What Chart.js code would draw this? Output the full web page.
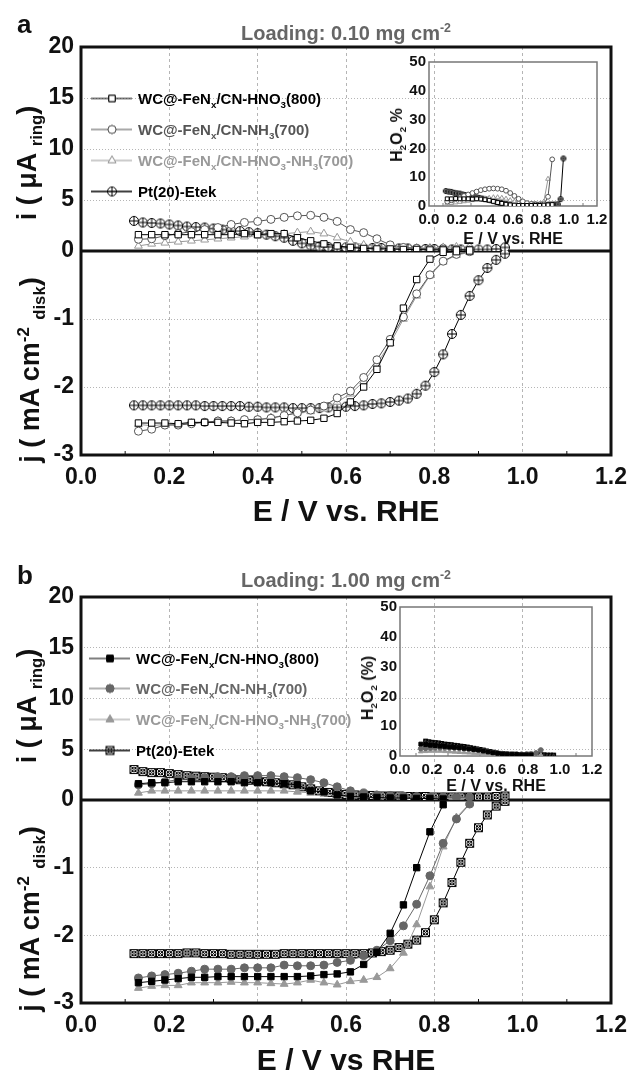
<!DOCTYPE html>
<html lang="en">
<head>
    <meta charset="UTF-8">
    <title>RRDE ring and disk currents</title>
    <script src="https://cdn.jsdelivr.net/npm/chart.js"></script>
    <style>
        body {
            margin: 0;
            width: 636px;
            height: 1075px;
            position: relative;
            overflow: hidden;
            background: #fff;
            font-family: "Liberation Sans", Arial, sans-serif;
            color: #111;
        }
        canvas { position: absolute; }
        .txt {
            position: absolute;
            font-weight: bold;
            white-space: nowrap;
            line-height: 1;
        }
        .rot {
            transform: translate(-50%, -50%) rotate(-90deg);
        }
        .ctr {
            transform: translate(-50%, -50%);
        }
        .txt sub, .txt sup { font-size: 62%; line-height: 0; }
        .legend {
            position: absolute;
            font-weight: bold;
            font-size: 15px;
        }
        .legend div {
            position: absolute;
            left: 0;
            white-space: nowrap;
            display: flex;
            align-items: center;
            transform: translateY(-50%);
        }
        .legend sub { font-size: 65%; line-height: 0; }
    </style>
</head>
<body>
    <canvas id="mainA" width="636" height="540" style="left:0;top:0"></canvas>
    <canvas id="insetA" width="236" height="205" style="left:380px;top:50px"></canvas>
    <canvas id="mainB" width="636" height="535" style="left:0;top:540px"></canvas>
    <canvas id="insetB" width="262" height="210" style="left:350px;top:595px"></canvas>

    <div class="txt" style="left:17px;top:11px;font-size:26px">a</div>
    <div class="txt ctr" style="left:346px;top:33px;font-size:20px;color:#666">Loading: 0.10 mg cm<sup>-2</sup></div>
    <div class="txt rot" style="left:27px;top:163px;font-size:27px">i ( &mu;A <sub>ring</sub>)</div>
    <div class="txt rot" style="left:30px;top:370px;font-size:27px">j ( mA cm<sup>-2</sup> <sub>disk</sub>)</div>
    <div class="txt rot" style="left:397px;top:135px;font-size:16px">H<sub>2</sub>O<sub>2</sub> %</div>
    <div class="legend" id="legendA" style="left:91px;top:0"></div>

    <div class="txt" style="left:17px;top:562px;font-size:26px">b</div>
    <div class="txt ctr" style="left:346px;top:580px;font-size:20px;color:#666">Loading: 1.00 mg cm<sup>-2</sup></div>
    <div class="txt rot" style="left:27px;top:706px;font-size:27px">i ( &mu;A <sub>ring</sub>)</div>
    <div class="txt rot" style="left:30px;top:919px;font-size:27px">j ( mA cm<sup>-2</sup> <sub>disk</sub>)</div>
    <div class="txt rot" style="left:368px;top:688px;font-size:16px">H<sub>2</sub>O<sub>2</sub> (%)</div>
    <div class="legend" id="legendB" style="left:89px;top:0"></div>

    <script>
        // potentials (V vs RHE)
        const xWC = [0.13, 0.16, 0.19, 0.22, 0.25, 0.28, 0.31, 0.34, 0.37, 0.40, 0.43, 0.46, 0.49,
                     0.52, 0.55, 0.58, 0.61, 0.64, 0.67, 0.70, 0.73, 0.76, 0.79, 0.82, 0.85, 0.88];
        const xPt = [0.12, 0.14, 0.16, 0.18, 0.20, 0.22, 0.24, 0.26, 0.28, 0.30, 0.32, 0.34, 0.36, 0.38,
                     0.40, 0.42, 0.44, 0.46, 0.48, 0.50, 0.52, 0.54, 0.56, 0.58, 0.60, 0.62, 0.64, 0.66,
                     0.68, 0.70, 0.72, 0.74, 0.76, 0.78, 0.80, 0.82, 0.84, 0.86, 0.88, 0.90, 0.92, 0.94, 0.96];

        const seriesNames = [
            'WC@-FeN<sub>x</sub>/CN-HNO<sub>3</sub>(800)',
            'WC@-FeN<sub>x</sub>/CN-NH<sub>3</sub>(700)',
            'WC@-FeN<sub>x</sub>/CN-HNO<sub>3</sub>-NH<sub>3</sub>(700)',
            'Pt(20)-Etek'
        ];

        // ---- panel a : loading 0.10 mg cm-2 ----
        const aDiskHNO3 = [-2.53, -2.53, -2.53, -2.54, -2.52, -2.52, -2.52, -2.53, -2.54, -2.52, -2.52, -2.51, -2.50,
                           -2.49, -2.46, -2.39, -2.22, -2.00, -1.74, -1.35, -0.84, -0.42, -0.12, -0.02, -0.01, 0.00];
        const aDiskNH3 = [-2.65, -2.62, -2.56, -2.56, -2.54, -2.52, -2.50, -2.50, -2.48, -2.48, -2.46, -2.42, -2.38,
                          -2.34, -2.28, -2.16, -2.06, -1.86, -1.60, -1.30, -0.97, -0.63, -0.35, -0.15, -0.05, -0.01];
        const aDiskMix = [-2.55, -2.57, -2.55, -2.55, -2.53, -2.52, -2.50, -2.50, -2.48, -2.48, -2.45, -2.42, -2.38,
                          -2.36, -2.32, -2.22, -2.10, -1.92, -1.66, -1.36, -1.00, -0.66, -0.36, -0.16, -0.06, -0.02];
        const aDiskPt = [-2.27, -2.27, -2.27, -2.27, -2.27, -2.27, -2.27, -2.27, -2.28, -2.28, -2.28, -2.28, -2.28, -2.29,
                         -2.29, -2.30, -2.30, -2.30, -2.31, -2.31, -2.31, -2.31, -2.30, -2.30, -2.29, -2.28, -2.27, -2.25,
                         -2.24, -2.22, -2.20, -2.17, -2.10, -1.98, -1.78, -1.52, -1.22, -0.94, -0.66, -0.43, -0.25, -0.13, -0.04];

        const aRingHNO3 = [1.6, 1.6, 1.6, 1.6, 1.6, 1.6, 1.6, 1.6, 1.7, 1.6, 1.7, 1.7, 1.3,
                           1.0, 0.7, 0.5, 0.35, 0.25, 0.2, 0.2, 0.15, 0.15, 0.1, 0.1, 0.1, 0.1];
        const aRingNH3 = [1.15, 1.2, 1.5, 1.7, 1.9, 2.1, 2.3, 2.6, 2.8, 2.9, 3.1, 3.3, 3.45,
                          3.5, 3.3, 2.9, 2.1, 1.8, 1.2, 0.6, 0.35, 0.25, 0.2, 0.15, 0.15, 0.1];
        const aRingMix = [0.5, 0.7, 0.8, 0.9, 1.0, 1.1, 1.2, 1.3, 1.4, 1.5, 1.6, 1.7, 1.8,
                          1.9, 1.7, 1.3, 0.9, 0.6, 0.45, 0.35, 0.3, 0.3, 0.3, 0.35, 0.4, 0.45];
        const aRingPt = [2.95, 2.8, 2.75, 2.7, 2.6, 2.5, 2.4, 2.35, 2.3, 2.2, 2.1, 2.0, 1.95, 1.85,
                         1.75, 1.6, 1.45, 1.3, 1.0, 0.75, 0.55, 0.45, 0.4, 0.35, 0.35, 0.35, 0.3, 0.3,
                         0.3, 0.3, 0.25, 0.25, 0.2, 0.2, 0.2, 0.2, 0.15, 0.15, 0.15, 0.15, 0.15, 0.2, 0.35];

        const aPerHNO3 = [2.5, 2.5, 2.6, 2.5, 2.5, 2.5, 2.4, 2.5, 2.4, 2.2, 2.0, 1.6, 1.2,
                          0.9, 0.6, 0.4, 0.3, 0.2, 0.2, 0.2, 0.2, 0.2, 0.2, 0.3, 0.4, 0.5];
        const aPerNH3 = [1.5, 2.0, 2.5, 3.0, 3.5, 4.0, 4.5, 5.0, 5.5, 5.8, 6.0, 6.1, 6.0,
                         5.8, 5.3, 4.5, 3.5, 2.5, 1.6, 1.0, 0.7, 0.5, 0.5, 0.6, 3.2, 16.2];
        const aPerMix = [0.8, 1.0, 1.2, 1.4, 1.6, 1.8, 2.0, 2.2, 2.4, 2.6, 2.8, 3.0, 3.0,
                         2.8, 2.5, 2.0, 1.5, 1.0, 0.7, 0.5, 0.4, 0.4, 0.5, 1.5, 9.4, null];
        const aPerPt = [5.2, 5.0, 4.9, 4.6, 4.4, 4.3, 4.0, 3.8, 3.7, 3.4, 3.2, 3.0, 2.8, 2.6,
                        2.4, 2.2, 2.0, 1.7, 1.4, 1.2, 1.0, 0.8, 0.7, 0.6, 0.5, 0.5, 0.5, 0.4,
                        0.5, 0.5, 0.4, 0.5, 0.5, 0.4, 0.5, 0.5, 0.4, 0.5, 0.5, 0.5, 0.6, 2.4, 16.5];

        // ---- panel b : loading 1.00 mg cm-2 ----
        const bDiskHNO3 = [-2.70, -2.68, -2.66, -2.64, -2.62, -2.62, -2.61, -2.61, -2.61, -2.61, -2.61, -2.61, -2.61,
                           -2.60, -2.58, -2.57, -2.54, -2.43, -2.25, -1.97, -1.55, -1.00, -0.47, -0.07];
        const bDiskNH3 = [-2.63, -2.60, -2.58, -2.56, -2.53, -2.50, -2.50, -2.50, -2.48, -2.48, -2.48, -2.44, -2.45,
                          -2.45, -2.44, -2.40, -2.37, -2.30, -2.22, -2.08, -1.86, -1.54, -1.12, -0.64, -0.28, -0.06];
        const bDiskMix = [-2.78, -2.75, -2.74, -2.74, -2.70, -2.70, -2.70, -2.69, -2.70, -2.70, -2.71, -2.72, -2.70,
                          -2.66, -2.70, -2.73, -2.68, -2.66, -2.62, -2.49, -2.26, -1.84, -1.28, -0.69, -0.26, -0.05];
        const bDiskPt = [-2.27, -2.27, -2.27, -2.27, -2.27, -2.27, -2.26, -2.26, -2.27, -2.27, -2.27, -2.28, -2.28, -2.28,
                         -2.28, -2.28, -2.28, -2.27, -2.27, -2.27, -2.27, -2.27, -2.27, -2.27, -2.27, -2.27, -2.27, -2.26,
                         -2.24, -2.22, -2.18, -2.13, -2.07, -1.96, -1.77, -1.52, -1.22, -0.92, -0.64, -0.41, -0.22, -0.09, -0.02];

        const bRingHNO3 = [1.6, 1.7, 1.7, 1.8, 1.8, 1.8, 1.8, 1.8, 1.7, 1.7, 1.7, 1.6, 1.5,
                           0.9, 0.8, 0.5, 0.35, 0.3, 0.25, 0.2, 0.2, 0.15, 0.15, 0.1];
        const bRingNH3 = [1.5, 1.6, 1.8, 2.0, 2.1, 2.2, 2.3, 2.3, 2.4, 2.4, 2.4, 2.3, 2.2,
                          2.0, 1.7, 1.3, 0.9, 0.7, 0.5, 0.45, 0.4, 0.35, 0.3, 0.3, 0.25, 0.25];
        const bRingMix = [0.7, 0.9, 0.9, 0.9, 0.9, 0.9, 0.9, 0.9, 0.9, 0.9, 0.9, 0.9, 0.8,
                          0.7, 0.6, 0.4, 0.3, 0.25, 0.2, 0.2, 0.2, 0.15, 0.15, 0.15, 0.15, 0.15];
        const bRingPt = [3.0, 2.8, 2.7, 2.7, 2.6, 2.5, 2.4, 2.35, 2.3, 2.25, 2.2, 2.1, 2.0, 1.95,
                         1.9, 1.8, 1.7, 1.6, 1.5, 1.3, 1.1, 0.9, 0.75, 0.65, 0.55, 0.5, 0.45, 0.45,
                         0.4, 0.4, 0.4, 0.35, 0.35, 0.35, 0.3, 0.3, 0.3, 0.3, 0.3, 0.3, 0.3, 0.35, 0.4];

        const bPerHNO3 = [4.0, 3.8, 3.6, 3.5, 3.3, 3.2, 3.0, 2.9, 2.8, 2.6, 2.4, 2.2, 2.0,
                          1.7, 1.4, 1.1, 0.9, 0.7, 0.6, 0.5, 0.5, 0.4, 0.4, 0.4];
        const bPerNH3 = [2.5, 2.6, 2.7, 2.8, 2.8, 2.8, 2.8, 2.7, 2.6, 2.5, 2.4, 2.2, 2.0,
                         1.7, 1.4, 1.1, 0.9, 0.8, 0.7, 0.6, 0.6, 0.6, 0.6, 0.7, 1.0, 2.0];
        const bPerMix = [1.5, 1.6, 1.7, 1.7, 1.7, 1.6, 1.5, 1.4, 1.3, 1.2, 1.1, 1.0, 0.9,
                         0.8, 0.7, 0.6, 0.5, 0.4, 0.4, 0.3, 0.3, 0.3, 0.3, 0.3, 0.3, 0.3];
        const bPerPt = [null, null, 5.0, 4.8, 4.6, 4.5, 4.4, 4.2, 4.0, 3.9, 3.8, 3.6, 3.5, 3.3,
                        3.2, 3.0, 2.8, 2.6, 2.4, 2.2, 2.0, 1.7, 1.5, 1.3, 1.1, 0.9, 0.8, 0.7,
                        0.6, 0.6, 0.6, 0.5, 0.5, 0.5, 0.6, 0.5, 0.5, 0.4, 0.4, 0.4, 0.3, 0.3, 0.3];

        Chart.defaults.font.family = "'Liberation Sans', Arial, sans-serif";
        Chart.defaults.color = '#111';

        function pts(xs, ys) {
            return ys.map((y, i) => ({ x: xs[i], y: y }));
        }

        // little canvases used as point styles for the Pt/C markers
        function ptMarker(kind, r) {
            const c = document.createElement('canvas');
            const s = Math.ceil(2 * r + 3);
            c.width = s; c.height = s;
            const g = c.getContext('2d');
            const m = s / 2;
            g.strokeStyle = '#000';
            g.fillStyle = '#fff';
            g.lineWidth = 1;
            if (kind === 'circle') {
                g.beginPath(); g.arc(m, m, r, 0, 2 * Math.PI); g.fill(); g.stroke();
                g.beginPath();
                g.moveTo(m - r, m); g.lineTo(m + r, m);
                g.moveTo(m, m - r); g.lineTo(m, m + r);
                g.stroke();
            } else {
                g.beginPath(); g.rect(m - r, m - r, 2 * r, 2 * r); g.fill(); g.stroke();
                g.beginPath();
                g.moveTo(m - r, m - r); g.lineTo(m + r, m + r);
                g.moveTo(m + r, m - r); g.lineTo(m - r, m + r);
                g.stroke();
                g.beginPath(); g.arc(m, m, r * 0.6, 0, 2 * Math.PI); g.stroke();
            }
            return c;
        }

        const stylesA = [
            { color: '#000', point: 'rect', fill: '#fff', r: 4.5 },
            { color: '#555', point: 'circle', fill: '#fff', r: 4 },
            { color: '#999', point: 'triangle', fill: '#fff', r: 4.5 },
            { color: '#000', point: ptMarker('circle', 4.5), fill: '#fff', r: 4.5, small: ptMarker('circle', 2.5) }
        ];
        const stylesB = [
            { color: '#000', point: 'rect', fill: '#000', r: 4.5 },
            { color: '#666', point: 'circle', fill: '#666', r: 4 },
            { color: '#999', point: 'triangle', fill: '#999', r: 4.5 },
            { color: '#000', point: ptMarker('square', 4), fill: '#fff', r: 4.5, small: ptMarker('square', 2) }
        ];

        function dataset(xs, ys, st, axis, small) {
            return {
                data: pts(xs, ys),
                yAxisID: axis,
                borderColor: st.color,
                borderWidth: 1,
                pointStyle: small && st.small ? st.small : st.point,
                pointRadius: small ? st.r * 0.6 : st.r,
                pointBorderColor: st.color,
                pointBackgroundColor: st.fill,
                pointBorderWidth: 1,
                spanGaps: false
            };
        }

        const framePlugin = {
            id: 'frame',
            beforeDatasetsDraw(chart, args, opts) {
                const { ctx, chartArea: a } = chart;
                ctx.save();
                ctx.strokeStyle = opts.color;
                ctx.lineWidth = opts.width;
                ctx.strokeRect(a.left, a.top, a.right - a.left, a.bottom - a.top);
                if (opts.zeroAxis) {
                    const y = chart.scales[opts.zeroAxis].getPixelForValue(0);
                    ctx.beginPath();
                    ctx.moveTo(a.left, y);
                    ctx.lineTo(a.right, y);
                    ctx.stroke();
                }
                // small inward minor ticks on the bottom edge
                ctx.lineWidth = 1;
                const xs = chart.scales.x;
                for (let v = 0.1; v < 1.2; v += 0.2) {
                    const px = xs.getPixelForValue(v);
                    ctx.beginPath();
                    ctx.moveTo(px, a.bottom);
                    ctx.lineTo(px, a.bottom - opts.minor);
                    ctx.stroke();
                }
                ctx.restore();
            }
        };

        function makeMain(id, styles, ring, disk, padTop, xTitle, axisH, titlePad) {
            const datasets = [];
            const xsets = [xWC, xWC, xWC, xPt];
            for (let k = 0; k < 4; k++) {
                datasets.push(dataset(xsets[k], disk[k], styles[k], 'yj'));
                datasets.push(dataset(xsets[k], ring[k], styles[k], 'yi'));
            }
            return new Chart(document.getElementById(id), {
                type: 'line',
                data: { datasets: datasets },
                options: {
                    responsive: false,
                    animation: false,
                    layout: { padding: { top: padTop, right: 25, left: 0, bottom: 0 } },
                    plugins: {
                        legend: { display: false },
                        tooltip: { enabled: false },
                        frame: { color: '#111', width: 3, zeroAxis: 'yj', minor: 4 }
                    },
                    scales: {
                        x: {
                            type: 'linear', min: 0, max: 1.2,
                            border: { display: false, dash: [3, 3] },
                            grid: {
                                color: ctx => (ctx.tick.value > 0.01 && ctx.tick.value < 1.19) ? '#b5b5b5' : 'rgba(0,0,0,0)',
                                drawTicks: false
                            },
                            ticks: {
                                stepSize: 0.2, padding: 9, autoSkip: false,
                                font: { size: 23, weight: 'bold' },
                                callback: v => v.toFixed(1)
                            },
                            title: {
                                display: true, text: xTitle,
                                font: { size: 30, weight: 'bold', lineHeight: 1 },
                                padding: { top: 0, bottom: titlePad }
                            },
                            afterFit: s => { s.height = axisH; }
                        },
                        yj: {
                            type: 'linear', position: 'left', stack: 'main', stackWeight: 1,
                            min: -3, max: 0,
                            border: { display: false, dash: [1, 2] },
                            grid: {
                                color: ctx => (ctx.tick.value < -0.01 && ctx.tick.value > -2.99) ? '#b5b5b5' : 'rgba(0,0,0,0)',
                                drawTicks: false
                            },
                            ticks: {
                                stepSize: 1, padding: 7, autoSkip: false,
                                font: { size: 23, weight: 'bold' },
                                callback: v => (v === 0 ? '' : String(v))
                            },
                            afterFit: s => { s.width = 81; }
                        },
                        yi: {
                            type: 'linear', position: 'left', stack: 'main', stackWeight: 1,
                            min: 0, max: 20,
                            border: { display: false, dash: [1, 2] },
                            grid: {
                                color: ctx => (ctx.tick.value > 0.01 && ctx.tick.value < 19.9) ? '#b5b5b5' : 'rgba(0,0,0,0)',
                                drawTicks: false
                            },
                            ticks: {
                                stepSize: 5, padding: 7, autoSkip: false,
                                font: { size: 23, weight: 'bold' }
                            },
                            afterFit: s => { s.width = 81; }
                        }
                    }
                },
                plugins: [framePlugin]
            });
        }

        function makeInset(id, styles, per, yW, padTop, padRight, axisH, titlePad) {
            const xsets = [xWC, xWC, xWC, xPt];
            const datasets = [];
            for (let k = 0; k < 4; k++) {
                datasets.push(dataset(xsets[k], per[k], styles[k], 'y', true));
            }
            return new Chart(document.getElementById(id), {
                type: 'line',
                data: { datasets: datasets },
                options: {
                    responsive: false,
                    animation: false,
                    layout: { padding: { top: padTop, right: padRight, left: 0, bottom: 0 } },
                    plugins: {
                        legend: { display: false },
                        tooltip: { enabled: false },
                        frame: { color: '#777', width: 1.5, minor: 3 }
                    },
                    scales: {
                        x: {
                            type: 'linear', min: 0, max: 1.2,
                            border: { display: false },
                            grid: { display: false, drawTicks: false },
                            ticks: {
                                stepSize: 0.2, padding: 5, autoSkip: false,
                                font: { size: 15, weight: 'bold' },
                                callback: v => v.toFixed(1)
                            },
                            title: {
                                display: true, text: 'E / V vs. RHE',
                                font: { size: 16, weight: 'bold' },
                                padding: { top: 0, bottom: titlePad }
                            },
                            afterFit: s => { s.height = axisH; }
                        },
                        y: {
                            type: 'linear', min: 0, max: 50,
                            border: { display: false },
                            grid: { display: false, drawTicks: false },
                            ticks: {
                                stepSize: 10, padding: 3, autoSkip: false,
                                font: { size: 15, weight: 'bold' }
                            },
                            afterFit: s => { s.width = yW; }
                        }
                    }
                },
                plugins: [framePlugin]
            });
        }

        function buildLegend(id, styles, rows) {
            const box = document.getElementById(id);
            seriesNames.forEach((name, k) => {
                const st = styles[k];
                const row = document.createElement('div');
                row.style.top = rows[k] + 'px';
                row.style.color = st.color;
                const mk = document.createElement('canvas');
                mk.width = 42; mk.height = 12;
                mk.style.position = 'static';
                mk.style.marginRight = '5px';
                const g = mk.getContext('2d');
                g.strokeStyle = st.color;
                g.lineWidth = 1.2;
                g.beginPath(); g.moveTo(0, 6); g.lineTo(41, 6); g.stroke();
                g.fillStyle = st.fill;
                g.lineWidth = 1;
                Chart.helpers.drawPoint(g, { pointStyle: st.point, radius: st.r, borderWidth: 1 }, 21, 6);
                g.fill(); g.stroke();
                row.appendChild(mk);
                const span = document.createElement('span');
                span.innerHTML = name;
                row.appendChild(span);
                box.appendChild(row);
            });
        }

        makeMain('mainA', stylesA,
            [aRingHNO3, aRingNH3, aRingMix, aRingPt],
            [aDiskHNO3, aDiskNH3, aDiskMix, aDiskPt],
            47, 'E / V vs. RHE', 85, 12);
        makeInset('insetA', stylesA, [aPerHNO3, aPerNH3, aPerMix, aPerPt], 49, 12, 19, 49, 6);

        makeMain('mainB', stylesB,
            [bRingHNO3, bRingNH3, bRingMix, bRingPt],
            [bDiskHNO3, bDiskNH3, bDiskMix, bDiskPt],
            57, 'E / V vs RHE', 72, -2);
        makeInset('insetB', stylesB, [bPerHNO3, bPerNH3, bPerMix, bPerPt], 50, 12, 20, 49, 9);

        buildLegend('legendA', stylesA, [98, 129, 160, 191]);
        buildLegend('legendB', stylesB, [658, 688, 719, 750]);
    </script>
</body>
</html>
